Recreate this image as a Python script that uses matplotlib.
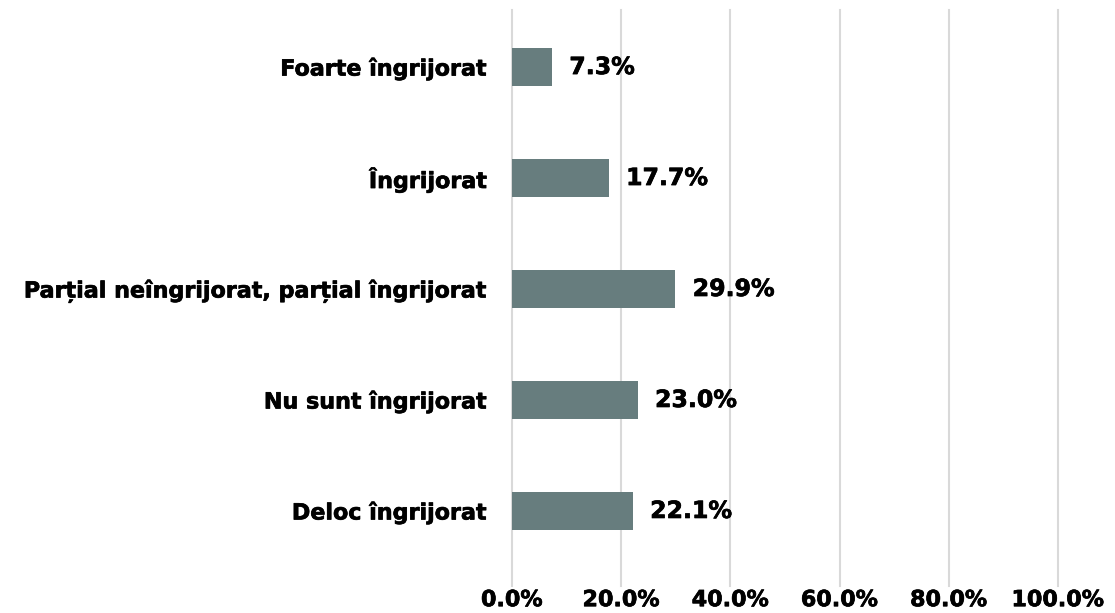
import matplotlib
matplotlib.use("Agg")
import matplotlib.pyplot as plt
import matplotlib.patheffects as pe
from matplotlib.ticker import FuncFormatter

categories = ["Foarte îngrijorat", "Îngrijorat", "Parțial neîngrijorat, parțial îngrijorat",
              "Nu sunt îngrijorat", "Deloc îngrijorat"]
values = [7.3, 17.7, 29.9, 23.0, 22.1]
xticks = [0, 20, 40, 60, 80, 100]

plt.rcParams['font.family'] = ['DejaVu Sans']
FS = 16
FSV = 17
heavy = [pe.withStroke(linewidth=0.5, foreground='black')]

fig = plt.figure(figsize=(11.15, 6.13), dpi=100)
W, H = 1115, 613
left, right = 512 / W, 1058 / W
top, bottom = 10 / H, 586 / H
ax = fig.add_axes([left, 1 - bottom, right - left, bottom - top])

pos = list(range(len(categories)))
ax.barh(pos, values, height=0.34, color="#677d7e", zorder=3)
ax.set_ylim(4.676, -0.514)
ax.set_xlim(0, 100)
ax.set_yticks(pos)
ax.set_yticklabels(categories, fontsize=FS, fontweight='bold')
ax.set_xticks(xticks)
ax.xaxis.set_major_formatter(FuncFormatter(lambda v, p: f"{v:.1f}%"))
for lbl in ax.get_yticklabels():
    lbl.set_path_effects(heavy)
for lbl in ax.get_xticklabels():
    lbl.set_fontsize(FS)
    lbl.set_fontweight('bold')
    lbl.set_path_effects(heavy)
ax.tick_params(axis='both', length=0)
ax.tick_params(axis='y', pad=18)
ax.tick_params(axis='x', pad=3)
for s in ax.spines.values():
    s.set_visible(False)
ax.grid(axis='x', color="#d9d9d9", linewidth=1.5, zorder=0)
ax.set_axisbelow(True)
for gl in ax.get_xgridlines():
    gl.set_clip_on(False)

for p, v in zip(pos, values):
    ax.text(v + 3.2, p, f"{v:.1f}%", va='center', ha='left', fontsize=FSV,
            fontweight='bold', color='black', zorder=4, path_effects=heavy)

fig.savefig("out.png", dpi=100)
